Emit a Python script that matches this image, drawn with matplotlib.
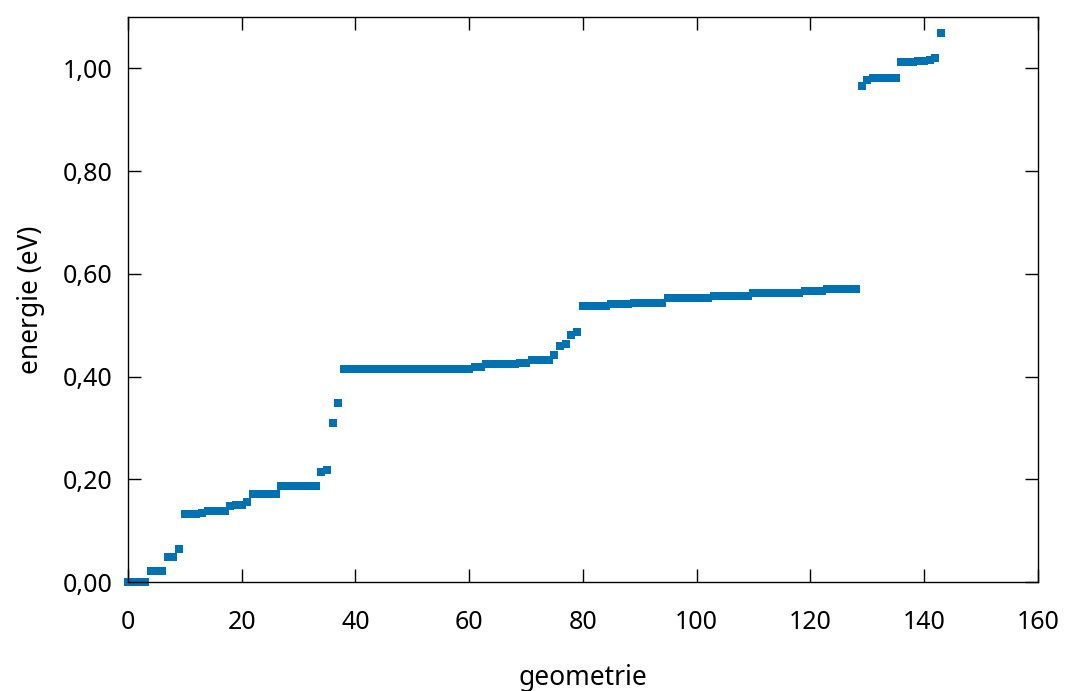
import matplotlib
matplotlib.use("Agg")
import matplotlib.pyplot as plt
from matplotlib.ticker import FuncFormatter

plt.rcParams['font.family'] = ['Noto Sans', 'DejaVu Sans']

# energies (eV) per geometry index
e_start = [0.000, 0.000, 0.000, 0.000, 0.022, 0.022, 0.022, 0.048, 0.048, 0.065]
e_low = [0.133, 0.133, 0.133, 0.135, 0.139, 0.139, 0.139, 0.139, 0.148, 0.150,
         0.150, 0.155, 0.172, 0.172, 0.172, 0.172, 0.172, 0.186, 0.186, 0.186,
         0.186, 0.186, 0.186, 0.186, 0.214, 0.218, 0.309, 0.348]
e_mid = [0.414] * 23 + [0.419, 0.419] + [0.424] * 6 + [0.426, 0.426] + \
        [0.433, 0.433, 0.433, 0.433, 0.442, 0.459, 0.463, 0.480, 0.487]
e_high = [0.538] * 5 + [0.541] * 4 + [0.544] * 6 + [0.553] * 8 + \
         [0.557] * 7 + [0.563] * 9 + [0.567] * 4 + [0.571] * 6
e_top = [0.965, 0.977, 0.981, 0.981, 0.981, 0.981, 0.981,
         1.012, 1.012, 1.013, 1.014, 1.015, 1.016, 1.021, 1.069]

energies = e_start + e_low + e_mid + e_high + e_top
geometries = list(range(len(energies)))

x_ticks = [0, 20, 40, 60, 80, 100, 120, 140, 160]
y_ticks = [0.0, 0.2, 0.4, 0.6, 0.8, 1.0]

fig = plt.figure(figsize=(10.69, 6.91), dpi=100)
ax = fig.add_axes([0.1197, 0.1577, 0.8511, 0.8177])

ax.plot(geometries, energies, linestyle='none', marker='s', markersize=5.4,
        color='#0072b2', markeredgewidth=0, clip_on=False)

ax.set_xlim(0, 160)
ax.set_ylim(0, 1.1)
ax.set_xticks(x_ticks)
ax.set_yticks(y_ticks)
ax.yaxis.set_major_formatter(FuncFormatter(lambda v, p: f"{v:.2f}".replace('.', ',')))
ax.tick_params(direction='in', length=9.5, width=1, top=True, right=True,
               labelsize=18)
ax.tick_params(axis='x', pad=20)
ax.tick_params(axis='y', pad=11)
for s in ax.spines.values():
    s.set_linewidth(1)

ax.set_xlabel('geometrie', fontsize=19, labelpad=21)
ax.set_ylabel('energie (eV)', fontsize=19, labelpad=13)

fig.savefig('out.png', dpi=100)
